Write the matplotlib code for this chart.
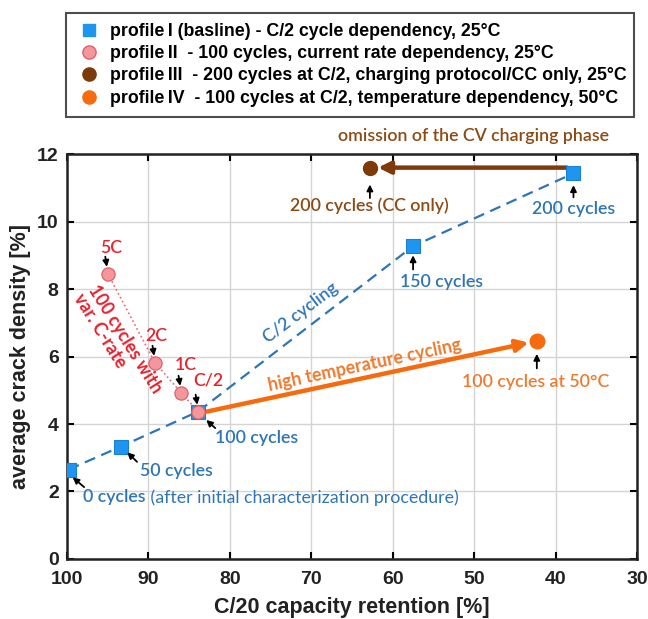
import matplotlib
matplotlib.use('Agg')
import matplotlib.pyplot as plt
from matplotlib.lines import Line2D

# profile I - baseline, C/2 cycling at 25 degC
cycles_I = [0, 50, 100, 150, 200]
retention_I = [99.8, 93.4, 83.9, 57.5, 37.8]
crack_I = [2.65, 3.33, 4.37, 9.27, 11.43]

# profile II - 100 cycles at different C-rates
rates_II = ['5C', '2C', '1C', 'C/2']
retention_II = [95.0, 89.2, 86.0, 83.9]
crack_II = [8.46, 5.82, 4.93, 4.37]

# profile III - 200 cycles CC only
retention_III = [62.8]
crack_III = [11.6]

# profile IV - 100 cycles at 50 degC
retention_IV = [42.3]
crack_IV = [6.47]

legend_labels = [
    'profile\u2009I (basline) - C/2 cycle dependency, 25°C',
    'profile\u2009II  - 100 cycles, current rate dependency, 25°C',
    'profile\u2009III  - 200 cycles at C/2, charging protocol/CC only, 25°C',
    'profile\u2009IV  - 100 cycles at C/2, temperature dependency, 50°C',
]

BLUE_TXT = '#2E75B6'
BLUE_MK = '#1E96F0'
RED_TXT = '#E8222E'
PINK = '#F4979C'
BROWN = '#7E3A08'
BROWN_TXT = '#8C4A14'
ORANGE = '#F86A0E'
ORANGE_TXT = '#EE7A2E'

ann_font = ['Lato', 'DejaVu Sans']
FS = 12.8

fig = plt.figure(figsize=(6.48, 6.19), dpi=100)
ax = fig.add_axes([0.1034, 0.097, 0.8796, 0.654])

# connecting lines
ax.plot(retention_I, crack_I, linestyle=(0, (5, 3)), color=BLUE_TXT, lw=1.6, zorder=2)
ax.plot(retention_II, crack_II, linestyle=':', color='#F06870', lw=1.2, zorder=2)

# thick arrows
ax.annotate('', xy=(retention_III[0] - 1.0, crack_III[0]), xytext=(retention_I[-1] + 0.8, crack_III[0]),
            arrowprops=dict(arrowstyle='-|>', color=BROWN, lw=3.2, mutation_scale=18,
                            shrinkA=0, shrinkB=0), zorder=3)
ax.annotate('', xy=(retention_IV[0] + 1.0, crack_IV[0] - 0.06), xytext=(retention_I[2] - 1.1, crack_I[2]),
            arrowprops=dict(arrowstyle='-|>', color=ORANGE, lw=3.2, mutation_scale=18,
                            shrinkA=0, shrinkB=0), zorder=3)

# markers
ax.plot(retention_I, crack_I, 's', ms=9.5, color=BLUE_MK, mec='#1A7FD0', mew=0.8, zorder=4)
ax.plot(retention_II, crack_II, 'o', ms=9.5, color=PINK, mec='#E0606A', mew=0.9, zorder=5)
ax.plot(retention_III, crack_III, 'o', ms=10, color=BROWN, mec=BROWN, zorder=5)
ax.plot(retention_IV, crack_IV, 'o', ms=10.5, color=ORANGE, mec=ORANGE, zorder=5)


def small_arrow(tail, head):
    ax.annotate('', xy=head, xytext=tail,
                arrowprops=dict(arrowstyle='-|>', color='black', lw=1.3, mutation_scale=9,
                                shrinkA=0, shrinkB=0), zorder=6)


# profile I labels
t0 = ax.text(98.0, 1.83, '0 cycles', color=BLUE_TXT, fontsize=FS, family=ann_font,
             fontweight='semibold', va='center', ha='left')
ax.annotate(' (after initial characterization procedure)', xy=(1, 0.5), xycoords=t0,
            va='center', ha='left', color=BLUE_TXT, fontsize=FS, family=ann_font)
small_arrow((97.9, 2.13), (99.3, 2.42))
ax.text(86.6, 2.62, '50 cycles', color=BLUE_TXT, fontsize=FS, family=ann_font,
        fontweight='semibold', va='center', ha='center')
small_arrow((91.4, 2.88), (92.6, 3.16))
ax.text(76.7, 3.6, '100 cycles', color=BLUE_TXT, fontsize=FS, family=ann_font,
        fontweight='semibold', va='center', ha='center')
small_arrow((81.8, 3.88), (82.9, 4.12))
ax.text(54.0, 8.2, '150 cycles', color=BLUE_TXT, fontsize=FS, family=ann_font,
        fontweight='semibold', va='center', ha='center')
small_arrow((57.5, 8.58), (57.5, 9.0))
ax.text(37.8, 10.38, '200 cycles', color=BLUE_TXT, fontsize=FS, family=ann_font,
        fontweight='semibold', va='center', ha='center')
small_arrow((37.8, 10.72), (37.8, 11.08))
ax.text(71.3, 7.3, 'C/2 cycling', color=BLUE_TXT, fontsize=FS, family=ann_font,
        fontweight='semibold', rotation=37, va='center', ha='center')

# profile II labels
rate_text_pos = [(94.6, 9.22), (89.0, 6.6), (85.4, 5.74), (82.6, 5.3)]
for rate, (tx, ty), x, y in zip(rates_II, rate_text_pos, retention_II, crack_II):
    ax.text(tx, ty, rate, color=RED_TXT, fontsize=FS, family=ann_font,
            fontweight='semibold', va='center', ha='center')
    small_arrow((x + 0.3, y + 0.5), (x + 0.1, y + 0.2))
ax.text(93.8, 6.4, '100 cycles with\nvar. C-rate', color=RED_TXT, fontsize=FS,
        family=ann_font, fontweight='bold', rotation=-58, va='center', ha='center',
        linespacing=1.0, multialignment='left')

# profile III labels
ax.text(62.9, 10.48, '200 cycles (CC only)', color=BROWN_TXT, fontsize=FS,
        family=ann_font, fontweight='semibold', va='center', ha='center')
small_arrow((62.8, 10.7), (62.8, 11.1))
ax.text(50.1, 12.55, 'omission of the CV charging phase', color=BROWN_TXT, fontsize=FS,
        family=ann_font, fontweight='semibold', va='center', ha='center', clip_on=False)

# profile IV labels
ax.text(42.5, 5.26, '100 cycles at 50°C', color=ORANGE_TXT, fontsize=FS,
        family=ann_font, fontweight='semibold', va='center', ha='center')
small_arrow((42.3, 5.65), (42.3, 6.08))
ax.text(63.4, 5.75, 'high temperature cycling', color=ORANGE_TXT, fontsize=FS,
        family=ann_font, fontweight='bold', rotation=12, va='center', ha='center')

# axes styling
ax.set_xlim(100, 30)
ax.set_ylim(0, 12)
ax.set_xticks(range(100, 29, -10))
ax.set_yticks(range(0, 13, 2))
ax.grid(True, color='#D4D4D4', lw=1.0)
ax.set_axisbelow(True)
ax.tick_params(direction='in', top=True, right=True, length=5, width=1.5,
               labelsize=14)
ax.tick_params(axis='x', pad=9)
ax.tick_params(axis='y', pad=6)
for lab in ax.get_xticklabels() + ax.get_yticklabels():
    lab.set_fontweight('bold')
    lab.set_family('Liberation Sans')
    lab.set_color('#222222')
for sp in ax.spines.values():
    sp.set_linewidth(1.8)
    sp.set_color('#222222')
ax.set_xlabel('C/20 capacity retention [%]', fontsize=15.5, fontweight='bold',
              family='Liberation Sans', color='#222222', labelpad=6)
ax.set_ylabel('average crack density [%]', fontsize=15.5, fontweight='bold',
              family='Liberation Sans', color='#222222', labelpad=4)

handles = [
    Line2D([], [], marker='s', ls='none', ms=9, color=BLUE_MK, mec=BLUE_MK),
    Line2D([], [], marker='o', ls='none', ms=9.5, color=PINK, mec='#E0606A'),
    Line2D([], [], marker='o', ls='none', ms=9.5, color=BROWN, mec=BROWN),
    Line2D([], [], marker='o', ls='none', ms=9.5, color=ORANGE, mec=ORANGE),
]
leg = fig.legend(handles, legend_labels, loc='upper left',
                 bbox_to_anchor=(66 / 648, 1 - 13 / 619, 568 / 648, 0), mode='expand',
                 borderaxespad=0, frameon=True, fancybox=False, edgecolor='#222222',
                 handletextpad=0.45, labelspacing=0.3, borderpad=0.55, handlelength=1.5,
                 prop={'family': 'Liberation Sans', 'weight': 'bold', 'size': 12.8})
leg.get_frame().set_linewidth(1.5)

fig.savefig('out.png', dpi=100)
